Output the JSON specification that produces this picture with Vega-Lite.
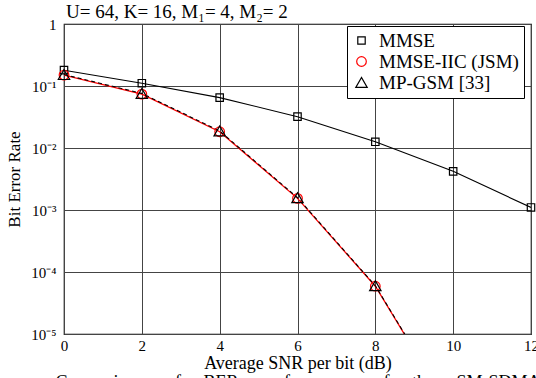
{
  "$schema": "https://vega.github.io/schema/vega-lite/v6.json",
  "width": 467,
  "height": 310,
  "autosize": "none",
  "padding": {"left": 64, "top": 24, "right": 5, "bottom": 44},
  "background": "white",
  "title": {
    "text": "U= 64, K= 16, M₁= 4, M₂= 2",
    "anchor": "start",
    "frame": "group",
    "font": "Liberation Serif",
    "fontSize": 19,
    "fontWeight": "normal",
    "color": "black",
    "offset": 2,
    "dx": 2,
    "dy": 7
  },
  "data": {
    "values": [
      {"snr": 0, "ber": 0.18, "series": "MMSE"},
      {"snr": 2, "ber": 0.111, "series": "MMSE"},
      {"snr": 4, "ber": 0.065, "series": "MMSE"},
      {"snr": 6, "ber": 0.032, "series": "MMSE"},
      {"snr": 8, "ber": 0.0126, "series": "MMSE"},
      {"snr": 10, "ber": 0.0042, "series": "MMSE"},
      {"snr": 12, "ber": 0.0011, "series": "MMSE"},
      {"snr": 0, "ber": 0.15, "series": "MMSE-IIC (JSM)"},
      {"snr": 2, "ber": 0.074, "series": "MMSE-IIC (JSM)"},
      {"snr": 4, "ber": 0.0183, "series": "MMSE-IIC (JSM)"},
      {"snr": 6, "ber": 0.00154, "series": "MMSE-IIC (JSM)"},
      {"snr": 8, "ber": 0.000059, "series": "MMSE-IIC (JSM)"},
      {"snr": 10, "ber": 0.0000005, "series": "MMSE-IIC (JSM)"},
      {"snr": 0, "ber": 0.153, "series": "MP-GSM [33]"},
      {"snr": 2, "ber": 0.076, "series": "MP-GSM [33]"},
      {"snr": 4, "ber": 0.0188, "series": "MP-GSM [33]"},
      {"snr": 6, "ber": 0.00158, "series": "MP-GSM [33]"},
      {"snr": 8, "ber": 0.00006, "series": "MP-GSM [33]"},
      {"snr": 10, "ber": 0.00000052, "series": "MP-GSM [33]"}
    ]
  },
  "encoding": {
    "x": {
      "field": "snr",
      "type": "quantitative",
      "scale": {"domain": [0, 12], "nice": false, "zero": false},
      "axis": {
        "title": ["Average SNR per bit (dB)", "Comparison \u2003of \u2003BER \u2003performance \u2003of \u2003the \u2003SM-SDMA"],
        "values": [0, 2, 4, 6, 8, 10, 12],
        "labelFlush": false,
        "labelPadding": 4,
        "titlePadding": 1,
        "titleFontSize": 18,
        "titleLineHeight": 19
      }
    },
    "y": {
      "field": "ber",
      "type": "quantitative",
      "scale": {"type": "log", "domain": [0.00001, 1], "nice": false},
      "axis": {
        "title": "Bit Error Rate",
        "values": [1, 0.1, 0.01, 0.001, 0.0001, 0.00001],
        "labelFlush": false,
        "labelPadding": 8,
        "labelExpr": "datum.value >= 0.5 ? '1' : '10⁻' + ['', '¹', '²', '³', '⁴', '⁵'][round(-log(datum.value) / LN10)]",
        "titleFontSize": 17,
        "titlePadding": 7
      }
    }
  },
  "layer": [
    {
      "transform": [{"filter": "datum.series == 'MMSE'"}],
      "mark": {"type": "line", "clip": true, "strokeWidth": 1.1, "color": "black"},
      "encoding": {}
    },
    {
      "transform": [{"filter": "datum.series == 'MMSE-IIC (JSM)'"}],
      "mark": {"type": "line", "clip": true, "strokeWidth": 1.3, "color": "#ff0000"},
      "encoding": {}
    },
    {
      "transform": [{"filter": "datum.series == 'MP-GSM [33]'"}],
      "mark": {"type": "line", "clip": true, "strokeWidth": 1.1, "color": "black", "strokeDash": [4, 3]},
      "encoding": {}
    },
    {
      "transform": [{"filter": "datum.ber >= 0.00001"}],
      "mark": {"type": "point", "filled": false, "opacity": 1, "strokeWidth": 1.2},
      "encoding": {
        "color": {
          "field": "series",
          "type": "nominal",
          "scale": {"domain": ["MMSE", "MMSE-IIC (JSM)", "MP-GSM [33]"], "range": ["black", "#ff0000", "black"]},
          "legend": {"title": null, "labelFont": "Liberation Serif", "labelFontSize": 19}
        },
        "shape": {
          "field": "series",
          "type": "nominal",
          "scale": {"domain": ["MMSE", "MMSE-IIC (JSM)", "MP-GSM [33]"], "range": ["square", "circle", "triangle-up"]},
          "legend": {"title": null, "labelFont": "Liberation Serif", "labelFontSize": 19}
        },
        "size": {
          "field": "series",
          "type": "nominal",
          "scale": {"domain": ["MMSE", "MMSE-IIC (JSM)", "MP-GSM [33]"], "range": [55, 130, 35]},
          "legend": {"title": null, "labelFont": "Liberation Serif", "labelFontSize": 19}
        }
      }
    }
  ],
  "config": {
    "font": "Liberation Serif",
    "view": {"stroke": "black", "strokeWidth": 1.2},
    "axis": {
      "labelFont": "Liberation Serif",
      "titleFont": "Liberation Serif",
      "labelFontSize": 15,
      "labelColor": "black",
      "titleColor": "black",
      "titleFontWeight": "normal",
      "grid": true,
      "gridColor": "#444444",
      "gridOpacity": 1,
      "gridWidth": 1,
      "domain": false,
      "ticks": false
    },
    "legend": {
      "orient": "none",
      "legendX": 283,
      "legendY": 2,
      "labelFont": "Liberation Serif",
      "labelFontSize": 19,
      "labelColor": "black",
      "labelOffset": 8,
      "rowPadding": 1,
      "padding": 5,
      "strokeColor": "black",
      "fillColor": "white",
      "cornerRadius": 0,
      "symbolStrokeWidth": 1.2
    }
  }
}
